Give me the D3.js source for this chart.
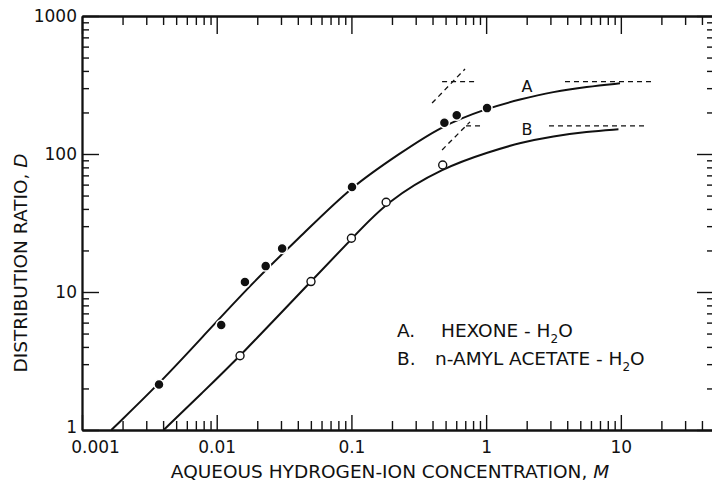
<!DOCTYPE html>
<html>
<head>
<meta charset="utf-8">
<script src="https://cdn.jsdelivr.net/npm/d3@7"></script>
<style>
  html, body { margin: 0; padding: 0; background: #fff; }
  svg { display: block; }
  text { font-family: "DejaVu Sans", sans-serif; fill: #111; }
</style>
</head>
<body>
<svg id="chart" width="712" height="484"></svg>
<script>
// ---- data ----
const xMajorTicks = [0.001, 0.01, 0.1, 1, 10];
const xTickLabels = ["0.001", "0.01", "0.1", "1", "10"];
const yMajorTicks = [1, 10, 100, 1000];
const yTickLabels = ["1", "10", "100", "1000"];

// measured points, series A (hexone, filled)
const hexoneX = [0.00373, 0.0108, 0.0162, 0.0231, 0.0306, 0.101, 0.49, 0.605, 1.016];
const hexoneD = [2.14, 5.77, 11.8, 15.4, 20.7, 57.7, 168.6, 190.7, 215];
// measured points, series B (n-amyl acetate, open)
const amylX = [0.0149, 0.0501, 0.1, 0.181, 0.476];
const amylD = [3.45, 11.9, 24.5, 44.7, 83.2];

// smooth curves
const curveAX = [0.00165, 0.00378, 0.0075, 0.0192, 0.045, 0.1005, 0.2296, 0.455, 1.01, 1.786, 3.155, 5.58, 9.86];
const curveAD = [1, 2.19, 4.5, 12.2, 27, 58.5, 101, 158, 214, 249, 283, 307, 325];
const curveBX = [0.00404, 0.0078, 0.01496, 0.0499, 0.1017, 0.183, 0.481, 1.07, 1.79, 3.16, 5.58, 9.6];
const curveBD = [1, 1.86, 3.44, 11.9, 24.5, 45.5, 80, 104, 121, 135, 145, 151];

// dashed guide lines (limiting values and slope-1 lines)
const dashSegments = [
  [[3.85, 335], [17.3, 335]],
  [[2.93, 160], [15.7, 160]],
  [[0.471, 335], [0.827, 335]],
  [[0.397, 234], [0.697, 413]],
  [[0.709, 160], [0.932, 160]],
  [[0.471, 107], [0.759, 171]]
];

const curveLabels = ["A", "B"];
const legendKeys = ["A.", "B."];
const legendNames = ["HEXONE - H", "n-AMYL ACETATE - H"];

// ---- layout ----
const svg = d3.select("#chart");
const L = 82, R = 715, T = 16, B = 430;
const x = d3.scaleLog().domain([0.001, 50]).range([L, R]);
const y = d3.scaleLog().domain([1, 1000]).range([B, T]);

const allXTicks = x.ticks(60).filter(v => v >= 0.001 && v <= 50);
const xMinor = allXTicks.filter(v => !xMajorTicks.some(m => Math.abs(m - v) / m < 1e-6));
const allYTicks = y.ticks(40);
const yMinor = allYTicks.filter(v => !yMajorTicks.some(m => Math.abs(m - v) / m < 1e-6));

function styleAxis(g) {
  g.select(".domain").attr("stroke", "#111").attr("stroke-width", 1.8);
  g.selectAll(".tick line").attr("stroke", "#111").attr("stroke-width", 1.4);
}

// bottom axis
svg.append("g").attr("transform", `translate(0,${B})`)
  .call(d3.axisBottom(x).tickValues(xMinor).tickSizeInner(-9).tickSizeOuter(0).tickFormat(""))
  .call(styleAxis);
const bx = svg.append("g").attr("transform", `translate(0,${B})`)
  .call(d3.axisBottom(x).tickValues(xMajorTicks).tickSizeInner(-15).tickSizeOuter(0)
    .tickPadding(11).tickFormat((d, i) => xTickLabels[i]))
  .call(styleAxis);
bx.selectAll("text").attr("font-size", 17).attr("font-family", "DejaVu Sans")
  .attr("dx", (d, i) => i === 0 ? 13 : 0);

// top axis
svg.append("g").attr("transform", `translate(0,${T})`)
  .call(d3.axisTop(x).tickValues(xMinor).tickSizeInner(-9).tickSizeOuter(0).tickFormat(""))
  .call(styleAxis);
svg.append("g").attr("transform", `translate(0,${T})`)
  .call(d3.axisTop(x).tickValues(xMajorTicks).tickSizeInner(-18).tickSizeOuter(0).tickFormat(""))
  .call(styleAxis);

// left axis
svg.append("g").attr("transform", `translate(${L},0)`)
  .call(d3.axisLeft(y).tickValues(yMinor).tickSizeInner(-7).tickSizeOuter(0).tickFormat(""))
  .call(styleAxis);
const ly = svg.append("g").attr("transform", `translate(${L},0)`)
  .call(d3.axisLeft(y).tickValues(yMajorTicks).tickSizeInner(-17).tickSizeOuter(0)
    .tickPadding(5).tickFormat((d, i) => yTickLabels[i]))
  .call(styleAxis);
ly.selectAll("text").attr("font-size", 17).attr("font-family", "DejaVu Sans")
  .attr("dy", (d, i) => i === 0 ? "0.15em" : "0.32em");

// right axis
svg.append("g").attr("transform", `translate(${R},0)`)
  .call(d3.axisRight(y).tickValues(yMinor).tickSizeInner(-8).tickSizeOuter(0).tickFormat(""))
  .call(styleAxis);
svg.append("g").attr("transform", `translate(${R},0)`)
  .call(d3.axisRight(y).tickValues(yMajorTicks).tickSizeInner(-18).tickSizeOuter(0).tickFormat(""))
  .call(styleAxis);

// axis titles
svg.append("text").attr("x", 390).attr("y", 478).attr("text-anchor", "middle")
  .attr("font-size", 18.5)
  .call(t => {
    t.append("tspan").text("AQUEOUS HYDROGEN-ION CONCENTRATION, ");
    t.append("tspan").attr("font-style", "italic").text("M");
  });
svg.append("text").attr("transform", "translate(27,263) rotate(-90)")
  .attr("text-anchor", "middle").attr("font-size", 18.5)
  .call(t => {
    t.append("tspan").text("DISTRIBUTION RATIO, ");
    t.append("tspan").attr("font-style", "italic").text("D");
  });

// dashed guides
const seg = d3.line().x(d => x(d[0])).y(d => y(d[1]));
svg.append("g").selectAll("path").data(dashSegments).join("path")
  .attr("d", seg).attr("fill", "none").attr("stroke", "#111")
  .attr("stroke-width", 1.3).attr("stroke-dasharray", "5,4");

// curves
const curveGen = d3.line().x(d => x(d[0])).y(d => y(d[1])).curve(d3.curveBasis);
const curveA = curveAX.map((v, i) => [v, curveAD[i]]);
const curveB = curveBX.map((v, i) => [v, curveBD[i]]);
svg.append("g").selectAll("path").data([curveA, curveB]).join("path")
  .attr("d", curveGen).attr("fill", "none").attr("stroke", "#111").attr("stroke-width", 2);

// points
svg.append("g").selectAll("circle").data(hexoneX.map((v, i) => [v, hexoneD[i]])).join("circle")
  .attr("cx", d => x(d[0])).attr("cy", d => y(d[1])).attr("r", 5)
  .attr("fill", "#111").attr("stroke", "#fff").attr("stroke-width", 1.5);
svg.append("g").selectAll("circle").data(amylX.map((v, i) => [v, amylD[i]])).join("circle")
  .attr("cx", d => x(d[0])).attr("cy", d => y(d[1])).attr("r", 4)
  .attr("fill", "#fff").attr("stroke", "#111").attr("stroke-width", 1.4);

// curve labels
svg.append("g").selectAll("text").data(curveLabels).join("text")
  .attr("x", 527).attr("y", (d, i) => i === 0 ? 92 : 135)
  .attr("text-anchor", "middle").attr("font-size", 16).text(d => d);

// legend
const lg = svg.append("g");
legendKeys.forEach((k, i) => {
  const by = i === 0 ? 337 : 365;
  lg.append("text").attr("x", 397).attr("y", by).attr("font-size", 18.5).text(k);
  const t = lg.append("text").attr("x", i === 0 ? 441 : 435).attr("y", by).attr("font-size", 18.5);
  t.append("tspan").text(legendNames[i]);
  t.append("tspan").attr("font-size", 12).attr("dy", 6).text("2");
  t.append("tspan").attr("dy", -6).text("O");
});
</script>
</body>
</html>
